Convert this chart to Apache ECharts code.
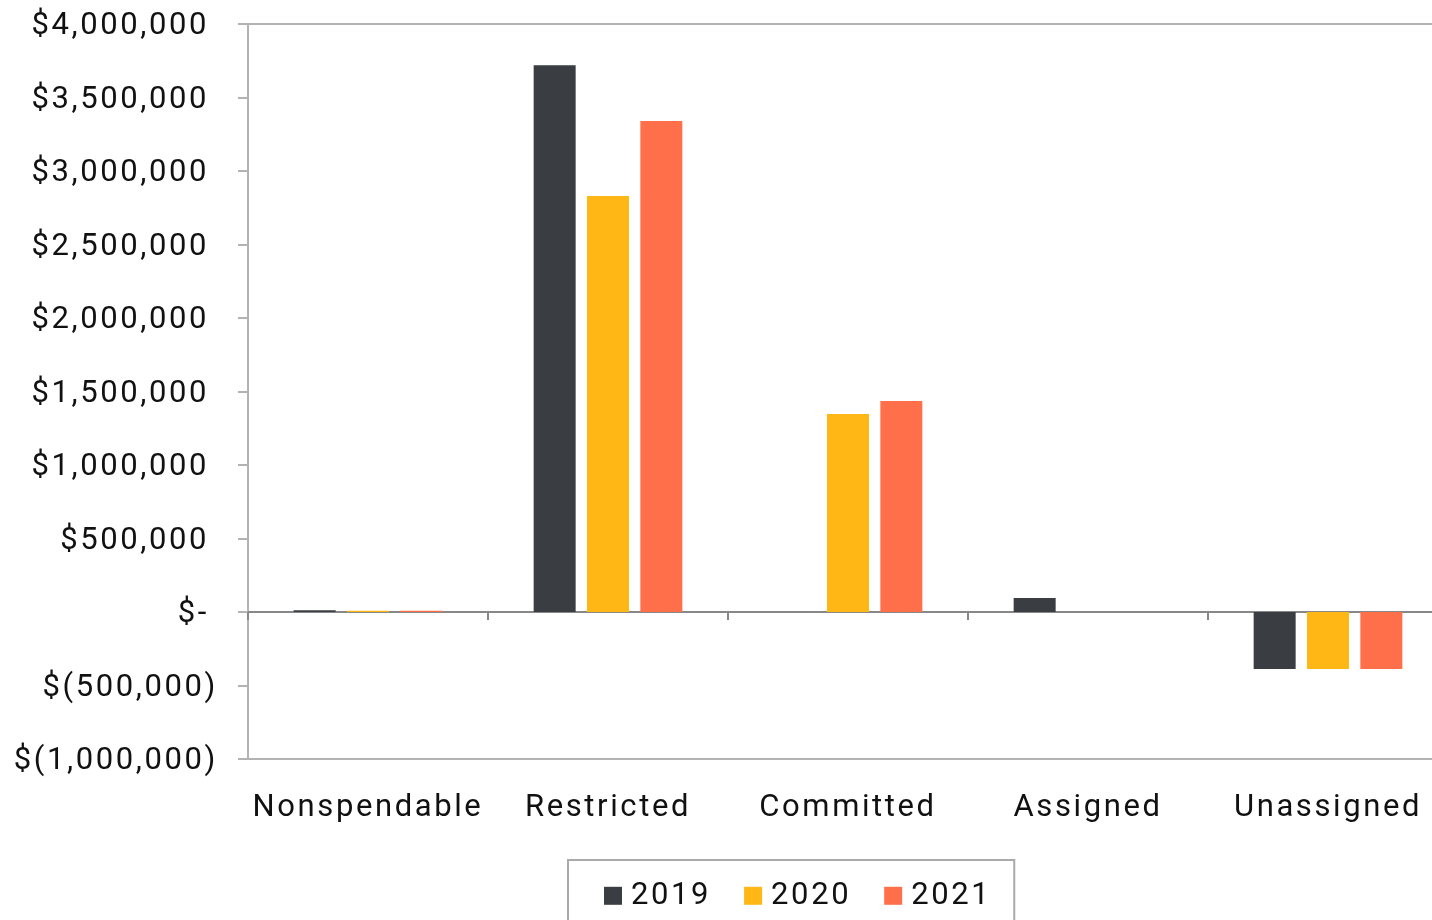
<!DOCTYPE html>
<html>
<head>
<meta charset="utf-8">
<title>Fund Balance by Classification</title>
<script src="https://cdn.jsdelivr.net/npm/echarts@6/dist/echarts.min.js"></script>
<style>
  html, body { margin: 0; padding: 0; background: #ffffff; }
  #chart { width: 1432px; height: 920px; }
</style>
</head>
<body>
<div id="chart"></div>
<script>
// Fund balance classifications and yearly amounts (USD)
const categories = ['Nonspendable', 'Restricted', 'Committed', 'Assigned', 'Unassigned'];
const years = ['2019', '2020', '2021'];
const values2019 = [12000, 3720000, 0, 95000, -388000];
const values2020 = [8000, 2830000, 1347000, 0, -388000];
const values2021 = [8000, 3340000, 1435000, 0, -388000];
const yTickMin = -1000000;
const yTickMax = 4000000;
const yTickStep = 500000;

const colors = ['#3a3e42', '#ffb715', '#ff6f49'];
const font = 'Roboto, "Noto Sans", sans-serif';

// Slightly open tracking for all chart text, applied to both
// measuring and drawing so label layout stays consistent.
const TRACKING = '2.6px';
(function () {
  const proto = CanvasRenderingContext2D.prototype;
  const fill = proto.fillText;
  const measure = proto.measureText;
  proto.fillText = function () { this.letterSpacing = TRACKING; return fill.apply(this, arguments); };
  proto.measureText = function () { this.letterSpacing = TRACKING; return measure.apply(this, arguments); };
})();

function withCommas(n) {
  return String(Math.round(n)).replace(/\B(?=(\d{3})+(?!\d))/g, ',');
}

// Accounting-style money labels: negatives in parentheses, zero as a dash
function money(v) {
  if (v === 0) return '{p|$-}';
  if (v < 0) return '$(' + withCommas(-v) + ')';
  return '{p|$' + withCommas(v) + '}';
}

const seriesValues = [values2019, values2020, values2021];

const chart = echarts.init(document.getElementById('chart'), null, { renderer: 'canvas' });

chart.setOption({
  animation: false,
  backgroundColor: '#ffffff',
  textStyle: { fontFamily: font },
  grid: {
    left: 248, right: -16, top: 24, bottom: 161,
    outerBoundsMode: 'none',
    show: true,
    borderColor: '#b3b3b3',
    borderWidth: 2,
    backgroundColor: 'transparent'
  },
  legend: {
    data: years,
    left: 568,
    top: 860,
    orient: 'horizontal',
    icon: 'rect',
    itemWidth: 18,
    itemHeight: 18,
    itemGap: 33,
    padding: [19, 23, 30, 36],
    borderColor: '#aaaaaa',
    borderWidth: 2,
    textStyle: {
      fontFamily: font,
      fontSize: 31,
      color: '#111111',
      padding: [0, 0, 0, 4]
    }
  },
  xAxis: [
    {
      type: 'category',
      data: categories,
      position: 'bottom',
      axisLine: { show: false, onZero: false },
      axisTick: { show: false },
      splitLine: { show: false },
      axisLabel: {
        interval: 0,
        margin: 32,
        fontFamily: font,
        fontSize: 31,
        color: '#111111'
      }
    },
    {
      type: 'category',
      data: categories,
      position: 'bottom',
      axisLine: { show: true, onZero: true, lineStyle: { color: '#888888', width: 2 } },
      axisTick: { show: true, alignWithLabel: false, length: 8, lineStyle: { color: '#888888', width: 2 } },
      axisLabel: { show: false },
      splitLine: { show: false }
    }
  ],
  yAxis: {
    type: 'value',
    min: yTickMin,
    max: yTickMax,
    interval: yTickStep,
    axisLine: { show: true, lineStyle: { color: '#b3b3b3', width: 2 } },
    axisTick: { show: true, length: 10, lineStyle: { color: '#b3b3b3', width: 2 } },
    splitLine: { show: false },
    axisLabel: {
      margin: 30,
      padding: [5, 0, 0, 0],
      fontFamily: font,
      fontSize: 31,
      color: '#111111',
      formatter: money,
      rich: {
        p: { fontFamily: font, fontSize: 31, color: '#111111', padding: [0, 9, 0, 0] }
      }
    }
  },
  series: years.map((y, i) => ({
    name: y,
    type: 'bar',
    xAxisIndex: 0,
    data: seriesValues[i],
    barWidth: 42,
    barGap: '27%',
    itemStyle: { color: colors[i] }
  }))
});
</script>
</body>
</html>
